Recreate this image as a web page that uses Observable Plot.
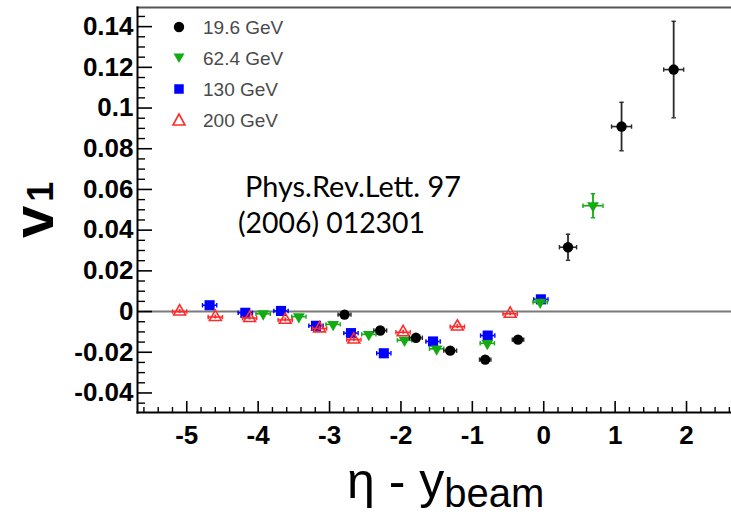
<!DOCTYPE html>
<html><head><meta charset="utf-8">
<script src="https://cdn.jsdelivr.net/npm/d3@7"></script>
<script src="https://cdn.jsdelivr.net/npm/@observablehq/plot@0.6"></script>
<style>
html,body{margin:0;padding:0;background:#fff;}
#wrap{position:relative;width:731px;height:514px;overflow:hidden;background:#fff;}
#overlay{position:absolute;left:0;top:0;pointer-events:none;}
</style></head><body>
<div id="wrap"></div>
<script>
// ---------- data ----------
const seriesNames = ["19.6 GeV", "62.4 GeV", "130 GeV", "200 GeV"];
const seriesColors = ["#000000", "#14aa14", "#0000ff", "#ff2b2b"];

const eta196  = [-2.79, -2.29, -1.79, -1.31, -0.82, -0.36, 0.34, 1.09, 1.82];
const v1_196  = [-0.0015, -0.0093, -0.0129, -0.0192, -0.0236, -0.0138, 0.0316, 0.0909, 0.1189];
const verr196 = [0.001, 0.001, 0.001, 0.001, 0.001, 0.001, 0.0064, 0.0119, 0.0237];
const xerr196 = [0.09, 0.09, 0.09, 0.09, 0.08, 0.08, 0.12, 0.14, 0.14];

const eta624  = [-3.93, -3.43, -2.95, -2.45, -1.95, -1.50, -0.79, -0.05, 0.69];
const v1_624  = [-0.0011, -0.0025, -0.0063, -0.0112, -0.0141, -0.0183, -0.0156, 0.0046, 0.052];
const verr624 = [0.001, 0.001, 0.001, 0.001, 0.001, 0.001, 0.001, 0.001, 0.0059];
const xerr624 = [0.1, 0.1, 0.1, 0.1, 0.1, 0.1, 0.1, 0.1, 0.14];

const eta130  = [-4.68, -4.18, -3.68, -3.19, -2.70, -2.24, -1.55, -0.785, -0.04];
const v1_130  = [0.0031, -0.0006, 0.0003, -0.0070, -0.0106, -0.0205, -0.0147, -0.0118, 0.0060];
const verr130 = [0.001, 0.001, 0.001, 0.001, 0.001, 0.001, 0.001, 0.001, 0.001];
const xerr130 = [0.1, 0.1, 0.1, 0.1, 0.1, 0.1, 0.1, 0.1, 0.1];

const eta200  = [-5.10, -4.60, -4.12, -3.62, -3.14, -2.66, -1.97, -1.21, -0.47];
const v1_200  = [0.0000, -0.0027, -0.0032, -0.0041, -0.0083, -0.0138, -0.0102, -0.0074, -0.0011];
const verr200 = [0.001, 0.001, 0.001, 0.001, 0.001, 0.001, 0.001, 0.001, 0.001];
const xerr200 = [0.1, 0.1, 0.1, 0.1, 0.1, 0.1, 0.1, 0.1, 0.1];

const xDomain = [-5.69, 2.63];
const yDomain = [-0.0496, 0.1494];
const xMajor = [-5, -4, -3, -2, -1, 0, 1, 2];
const xLabels = ["-5", "-4", "-3", "-2", "-1", "0", "1", "2"];
const yMajor = [-0.04, -0.02, 0, 0.02, 0.04, 0.06, 0.08, 0.1, 0.12, 0.14];
const yLabels = ["-0.04", "-0.02", "0", "0.02", "0.04", "0.06", "0.08", "0.1", "0.12", "0.14"];
const xMinor = d3.range(-28, 14).map(i => i / 5).filter(d => Math.abs(d - Math.round(d)) > 1e-6);
const yMinor = d3.range(-9, 30).map(i => i / 200).filter(d => Math.abs(d * 50 - Math.round(d * 50)) > 1e-6);

// ---------- build ----------
function rows(eta, v, ve, xe) {
  return eta.map((x, i) => ({x, v: v[i], ve: ve[i], xe: xe[i]}));
}
const s196 = rows(eta196, v1_196, verr196, xerr196);
const s624 = rows(eta624, v1_624, verr624, xerr624);
const s130 = rows(eta130, v1_130, verr130, xerr130);
const s200 = rows(eta200, v1_200, verr200, xerr200);

const hCap = {draw(ctx, size) { const w = Math.sqrt(size / Math.PI); ctx.moveTo(-w, 0); ctx.lineTo(w, 0); }};
const vCap = {draw(ctx, size) { const w = Math.sqrt(size / Math.PI); ctx.moveTo(0, -w); ctx.lineTo(0, w); }};
const triDown = {draw(ctx, size) {
  const s3 = Math.sqrt(3);
  const y = -Math.sqrt(size / (s3 * 3));
  ctx.moveTo(0, -y * 2); ctx.lineTo(-s3 * y, y); ctx.lineTo(s3 * y, y); ctx.closePath();
}};

function errorMarks(data, color, ebColor) {
  const c = ebColor || color;
  return [
    Plot.ruleY(data, {y: "v", x1: d => d.x - d.xe, x2: d => d.x + d.xe, stroke: c, strokeWidth: 1.6}),
    Plot.ruleX(data, {x: "x", y1: d => d.v - d.ve, y2: d => d.v + d.ve, stroke: c, strokeWidth: 1.8}),
    Plot.dot(data, {x: d => d.x - d.xe, y: "v", symbol: vCap, r: 2.2, stroke: c, fill: "none", strokeWidth: 1.4}),
    Plot.dot(data, {x: d => d.x + d.xe, y: "v", symbol: vCap, r: 2.2, stroke: c, fill: "none", strokeWidth: 1.4}),
    Plot.dot(data.filter(d => d.ve >= 0.003), {x: "x", y: d => d.v - d.ve, symbol: hCap, r: 2.2, stroke: c, fill: "none", strokeWidth: 1.4}),
    Plot.dot(data.filter(d => d.ve >= 0.003), {x: "x", y: d => d.v + d.ve, symbol: hCap, r: 2.2, stroke: c, fill: "none", strokeWidth: 1.4})
  ];
}

const chart = Plot.plot({
  width: 731,
  height: 514,
  marginLeft: 137,
  marginRight: 0,
  marginTop: 7,
  marginBottom: 102,
  x: {domain: xDomain, label: null},
  y: {domain: yDomain, label: null},
  style: "font-family:'Liberation Sans',Arial,sans-serif;font-size:26px;font-weight:bold;background:#fff;overflow:visible;",
  marks: [
    Plot.ruleY([0], {stroke: "#7a7a7a", strokeWidth: 2}),
    // frame
    Plot.frame({anchor: "top", stroke: "#555", strokeWidth: 2}),
    Plot.frame({anchor: "left", stroke: "#000", strokeWidth: 2}),
    Plot.frame({anchor: "bottom", stroke: "#000", strokeWidth: 2}),
    // ticks (inside)
    Plot.axisY(yMajor, {tickSize: -15, tickFormat: () => "", stroke: "#000", strokeWidth: 1.6}),
    Plot.axisY(yMinor, {tickSize: -8, tickFormat: () => "", stroke: "#000", strokeWidth: 1.4}),
    Plot.axisX(xMajor, {tickSize: -11, tickFormat: () => "", stroke: "#000", strokeWidth: 1.6}),
    Plot.axisX(xMinor, {tickSize: -5, tickFormat: () => "", stroke: "#000", strokeWidth: 1.4}),
    // labels
    Plot.axisY(yMajor, {tickSize: 0, tickPadding: 4, fill: "#000",
      tickFormat: d => yLabels[yMajor.findIndex(t => Math.abs(t - d) < 1e-9)]}),
    Plot.axisX(xMajor, {tickSize: 0, tickPadding: 13, fill: "#000",
      tickFormat: d => xLabels[xMajor.findIndex(t => Math.abs(t - d) < 1e-9)]}),
    // 130 GeV
    ...errorMarks(s130, seriesColors[2]),
    Plot.dot(s130, {x: "x", y: "v", symbol: "square", r: 5.7, fill: seriesColors[2], stroke: "none"}),
    // 62.4 GeV
    ...errorMarks(s624, seriesColors[1]),
    Plot.dot(s624, {x: "x", y: "v", symbol: triDown, r: 4.4, fill: seriesColors[1], stroke: "none"}),
    // 200 GeV
    ...errorMarks(s200, seriesColors[3]),
    Plot.dot(s200, {x: "x", y: "v", symbol: "triangle", r: 4.4, fill: "none", stroke: seriesColors[3], strokeWidth: 1.6}),
    // 19.6 GeV
    ...errorMarks(s196, seriesColors[0], "#2a2a2a"),
    Plot.dot(s196, {x: "x", y: "v", symbol: "circle", r: 5.2, fill: seriesColors[0], stroke: "none"})
  ]
});

const wrap = document.getElementById("wrap");
wrap.appendChild(chart);

// ---------- overlay: titles, legend, annotation ----------
const legendY = [27, 58, 89, 120];
const sq = 9.5;
const legendSymbols = [
  `<circle cx="179" cy="${legendY[0]}" r="5.2" fill="${seriesColors[0]}"/>`,
  `<path d="M173.5,${legendY[1]-4.5}L184.5,${legendY[1]-4.5}L179,${legendY[1]+5}Z" fill="${seriesColors[1]}"/>`,
  `<rect x="${179-sq/2}" y="${legendY[2]-sq/2}" width="${sq}" height="${sq}" fill="${seriesColors[2]}"/>`,
  `<path d="M179,${legendY[3]-6}L185,${legendY[3]+5}L173,${legendY[3]+5}Z" fill="none" stroke="${seriesColors[3]}" stroke-width="1.6"/>`
];
const legendTexts = seriesNames.map((n, i) =>
  `<text x="203" y="${legendY[i] + 7}" font-size="19" fill="#4a4a4a">${n}</text>`).join("");

const overlay = `
<svg id="overlay" width="731" height="514" xmlns="http://www.w3.org/2000/svg">
  <g font-family="'Liberation Sans', Arial, sans-serif">
    <text transform="translate(53,238) rotate(-90)" font-size="58" font-weight="bold" fill="#000">v<tspan font-size="36" dx="4">1</tspan></text>
    <text x="347" y="498" font-size="50" fill="#000">η - y<tspan font-size="40" dy="9">beam</tspan></text>
    ${legendSymbols.join("")}
    ${legendTexts}
  </g>
  <g font-family="Lato, 'Open Sans', sans-serif" fill="#000">
    <text x="245" y="197" font-size="28" textLength="216" lengthAdjust="spacingAndGlyphs">Phys.Rev.Lett. 97</text>
    <text x="238" y="233" font-size="28" textLength="187" lengthAdjust="spacingAndGlyphs">(2006) 012301</text>
  </g>
</svg>`;
wrap.insertAdjacentHTML("beforeend", overlay);
</script>
</body></html>
